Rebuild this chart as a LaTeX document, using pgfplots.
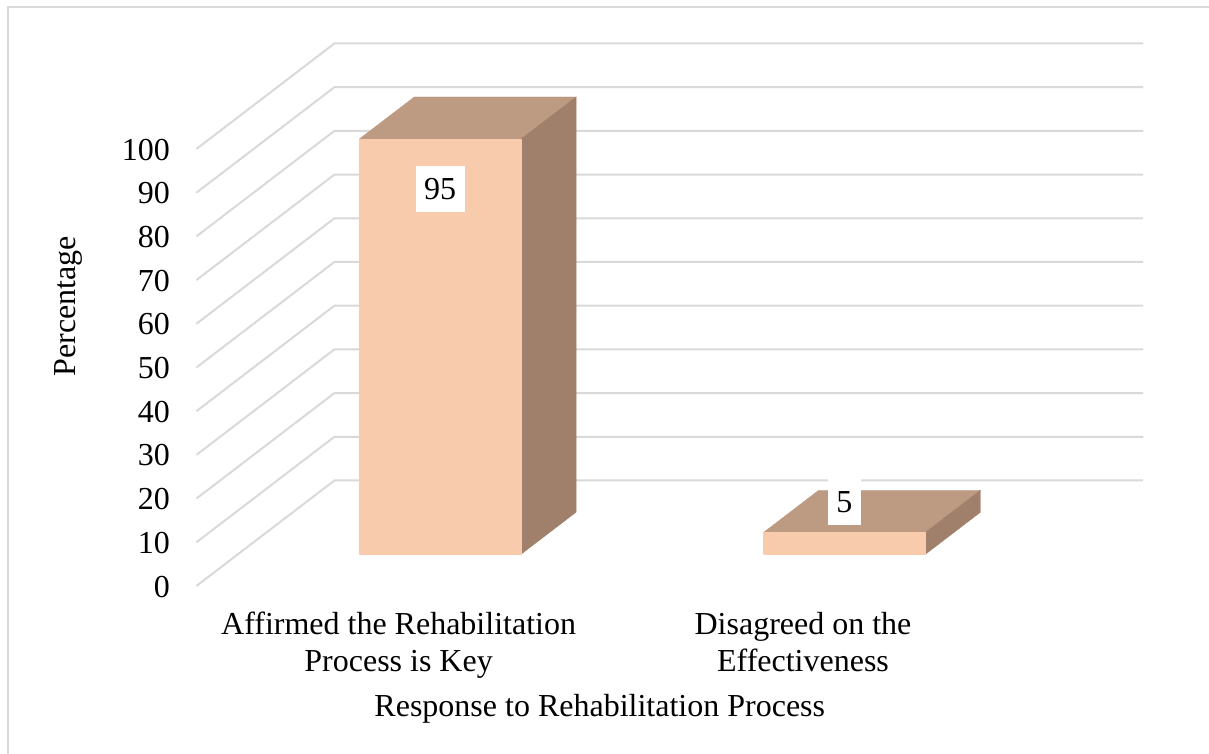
\documentclass[border=0pt]{standalone}
\usepackage{fontspec}
\setmainfont{Liberation Serif}
\usepackage{pgfplots}
\pgfplotsset{compat=1.18}

\definecolor{gridgray}{HTML}{D9D9D9}
\definecolor{barfront}{HTML}{F8CBAD}
\definecolor{bartop}{HTML}{BD9A82}
\definecolor{barside}{HTML}{A0806A}

% one 3D bar: x from #1 to #2, height #3 (depth runs 0.3 to 0.7)
\newcommand{\threedbar}[3]{
    \addplot3[fill=bartop, draw=bartop, line width=0.2pt] coordinates {
        (#1,0.3,#3) (#2,0.3,#3) (#2,0.7,#3) (#1,0.7,#3) (#1,0.3,#3)};
    \addplot3[fill=barside, draw=barside, line width=0.2pt] coordinates {
        (#2,0.3,0) (#2,0.7,0) (#2,0.7,#3) (#2,0.3,#3) (#2,0.3,0)};
    \addplot3[fill=barfront, draw=barfront, line width=0.2pt] coordinates {
        (#1,0.3,0) (#2,0.3,0) (#2,0.3,#3) (#1,0.3,#3) (#1,0.3,0)};
}

\newcommand{\lblfont}{\fontsize{16}{18.8}\selectfont}

\begin{document}
\begin{tikzpicture}[x=0.5pt, y=0.5pt]
    \useasboundingbox (0,0) rectangle (1209,754);
    % outer frame, only top and left show
    \draw[gridgray, line width=1pt] (7.5,0) -- (7.5,746.5) -- (1209,746.5);

    \begin{axis}[
        at={(199.3pt,84pt)},
        anchor=origin,
        x={(202.2pt,0pt)},
        y={(69pt,52.75pt)},
        z={(0pt,2.185pt)},
        xmin=-0.5, xmax=1.5,
        ymin=0, ymax=1,
        zmin=0, zmax=100,
        hide axis,
        clip=false
    ]

    % gridlines on the side wall and the back wall
    \addplot3[gridgray, line width=1pt] coordinates {
        (-0.5,0,0)   (-0.5,1,0)   (1.5,1,0)

        (-0.5,0,10)  (-0.5,1,10)  (1.5,1,10)

        (-0.5,0,20)  (-0.5,1,20)  (1.5,1,20)

        (-0.5,0,30)  (-0.5,1,30)  (1.5,1,30)

        (-0.5,0,40)  (-0.5,1,40)  (1.5,1,40)

        (-0.5,0,50)  (-0.5,1,50)  (1.5,1,50)

        (-0.5,0,60)  (-0.5,1,60)  (1.5,1,60)

        (-0.5,0,70)  (-0.5,1,70)  (1.5,1,70)

        (-0.5,0,80)  (-0.5,1,80)  (1.5,1,80)

        (-0.5,0,90)  (-0.5,1,90)  (1.5,1,90)

        (-0.5,0,100) (-0.5,1,100) (1.5,1,100)
    };

    \threedbar{-0.2}{0.2}{95}
    \threedbar{0.8}{1.2}{5}

    % data labels
    \node[fill=white, inner sep=0pt, minimum width=24.5pt, minimum height=23pt, font=\lblfont, yshift=-25pt]
        at (axis cs:0,0.3,95) {95};
    \node[fill=white, inner sep=0pt, minimum width=16.5pt, minimum height=23pt, font=\lblfont, yshift=15pt]
        at (axis cs:1,0.3,5) {\raisebox{-1pt}{5}};

    % z tick labels
    \pgfplotsinvokeforeach{0,10,...,100}{
        \node[anchor=east, inner xsep=0pt, font=\lblfont, xshift=-13pt, yshift=-0.3pt]
            at (axis cs:-0.5,0,#1) {#1};
    }

    % category labels
    \node[align=center, anchor=base, font=\lblfont] at (axis cs:0,0,0)
        [yshift=-43pt] {Affirmed the Rehabilitation\\Process is Key};
    \node[align=center, anchor=base, font=\lblfont] at (axis cs:1,0,0)
        [yshift=-43pt] {Disagreed on the\\Effectiveness};

    % axis titles
    \node[anchor=base, font=\lblfont] at (axis cs:0.5,0,0) [yshift=-65.5pt, xshift=-0.5pt]
        {Response to Rehabilitation Process};
    \node[rotate=90, font=\lblfont, anchor=base] at (axis cs:-0.5,0,64) [yshift=60.5pt]
        {Percentage};

    \end{axis}
\end{tikzpicture}
\end{document}
